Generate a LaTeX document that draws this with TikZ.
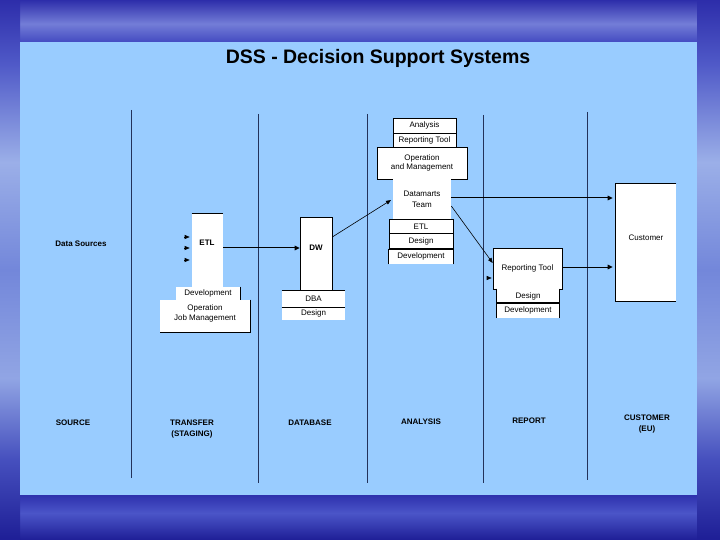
\documentclass[tikz,border=0pt]{standalone}
\usepackage{fontspec}
\setmainfont{Liberation Sans}
\usetikzlibrary{arrows.meta}
\definecolor{panel}{RGB}{153,204,255}
\definecolor{vline}{RGB}{35,50,90}
\definecolor{bga}{RGB}{30,30,150}
\definecolor{bgb}{RGB}{75,85,200}
\definecolor{bgc}{RGB}{40,42,168}
\definecolor{bgd}{RGB}{95,105,210}
\definecolor{bge}{RGB}{65,72,192}
\definecolor{bgf}{RGB}{115,125,215}
\definecolor{bgg}{RGB}{45,45,170}
\definecolor{sda}{RGB}{70,80,190}
\definecolor{sdb}{RGB}{145,165,228}
\definecolor{sdc}{RGB}{115,135,218}
\definecolor{sdd}{RGB}{155,175,232}
\definecolor{sde}{RGB}{80,90,200}
\pgfdeclareverticalshading{bgsh}{100bp}{
  color(0bp)=(bga);
  color(25bp)=(bga);
  color(27.5bp)=(bgb);
  color(29.5bp)=(bgc);
  color(50bp)=(bgd);
  color(71bp)=(bge);
  color(72.8bp)=(bgf);
  color(75bp)=(bgg);
  color(100bp)=(bgg)}
\pgfdeclareverticalshading{sidesh}{100bp}{
  color(0bp)=(bga);
  color(25bp)=(bga);
  color(32.5bp)=(sda);
  color(40bp)=(sdb);
  color(50bp)=(sdc);
  color(60bp)=(sdd);
  color(69bp)=(sde);
  color(75bp)=(bgg);
  color(100bp)=(bgg)}
\begin{document}
\begin{tikzpicture}[x=1bp,y=-1bp,
  box/.style={fill=white, draw=black, line width=0.6bp, inner sep=0pt, align=center,
    font=\fontsize{8bp}{9.5bp}\selectfont},
  wbox/.style={box, draw=none},
  txt/.style={inner sep=0pt, align=center, font=\fontsize{8bp}{9.5bp}\selectfont},
  lbl/.style={inner sep=0pt, align=center, font=\fontsize{8bp}{11bp}\selectfont\bfseries},
  edge/.style={line width=0.7bp, black},
  thick edge/.style={line width=1.8bp, black},
  arr/.style={-{Triangle[length=5bp,width=4.5bp]}, line width=1bp, black},
  tarr/.style={-{Triangle[length=5bp,width=4bp]}, line width=0.6bp, black},
  vl/.style={draw=vline, line width=0.9bp}]
\useasboundingbox (0,0) rectangle (720,540);
% background
\shade[shading=bgsh] (0,0) rectangle (720,540);
\shade[shading=sidesh] (0,0) rectangle (20,540);
\shade[shading=sidesh] (697,0) rectangle (720,540);
% panel
\fill[panel] (20,42) rectangle (697,495);
% title
\node[inner sep=0pt, font=\fontsize{19.5bp}{22bp}\selectfont\bfseries] (title) at (378,58) {DSS - Decision Support Systems};
% column separators
\draw[vl] (131,110) -- (131,478);
\draw[vl] (258,114) -- (258,483);
\draw[vl] (367,114) -- (367,483);
\draw[vl] (483,115) -- (483,483);
\draw[vl] (587,112) -- (587,480);
% source
\node[lbl] (ds) at (81,244) {Data Sources};
% transfer (staging)
\node[wbox, minimum width=90bp, minimum height=32bp] (etlop) at (205,316) {};
\node[txt] (etlopt) at (205,313.5) {Operation\\Job Management};
\node[wbox, minimum width=64bp, minimum height=13bp] (etldev) at (208,293.5) {Development};
\node[wbox, minimum width=31bp, minimum height=73bp] (etl) at (207.5,250.5) {};
\node[lbl] (etll) at (207,243) {ETL};
\draw[edge] (etl.north west) -- (etl.north east);
\draw[edge] (etldev.north east) -- (etldev.south east);
\draw[edge] (etlop.north east) -- (etlop.south east) -- (etlop.south west);
\coordinate (s1) at (184,237);
\coordinate (s2) at (184,248);
\coordinate (s3) at (184,260);
\draw[tarr, shorten >=2bp] (s1) -- (etl.west |- s1);
\draw[tarr, shorten >=2bp] (s2) -- (etl.west |- s2);
\draw[tarr, shorten >=2bp] (s3) -- (etl.west |- s3);
% database
\node[box, minimum width=32bp, minimum height=74bp] (dw) at (316,254) {};
\node[lbl] (dwl) at (316,248) {DW};
\node[wbox, minimum width=63bp, minimum height=16bp] (dba) at (313.5,299) {DBA};
\node[wbox, minimum width=63bp, minimum height=13bp] (dbades) at (313.5,313.5) {Design};
\draw[edge] (dba.north west) -- (dba.north east);
\draw[edge] (dba.south west) -- (dba.south east);
\draw[arr] ([yshift=2.5bp]etl.east) coordinate (a1) -- (dw.west |- a1);
% analysis
\node[box, minimum width=63bp, minimum height=15bp] (ana) at (424.5,125.5) {Analysis};
\node[box, minimum width=63bp, minimum height=14bp] (rt) at (424.5,140) {Reporting Tool};
\node[box, minimum width=90bp, minimum height=32bp] (opm) at (422,163) {Operation\\and Management};
\node[wbox, minimum width=58bp, minimum height=40bp] (dm) at (422,199) {Datamarts\\[1.5bp]Team};
\node[box, minimum width=64bp, minimum height=14.5bp] (dmetl) at (421,226.25) {ETL};
\node[box, minimum width=64bp, minimum height=15.5bp] (dmdes) at (421,241.25) {Design};
\node[wbox, minimum width=64bp, minimum height=15bp] (dmdev) at (421,256.5) {Development};
\draw[edge] (dmdev.south west) -- (dmdev.north west);
\draw[edge] (dmdev.south east) -- (dmdev.north east);
\draw[thick edge] (dmdev.north west) -- (dmdev.north east);
\draw[tarr, shorten >=2bp] ([yshift=17bp]dw.east) -- (dm.west);
% report
\node[box, minimum width=69bp, minimum height=41bp] (rep) at (527.5,268.5) {Reporting Tool};
\node[wbox, minimum width=62bp, minimum height=14bp] (repdes) at (528,296) {Design};
\node[wbox, minimum width=62bp, minimum height=15bp] (repdev) at (528,310.5) {Development};
\draw[edge] (repdes.north west) -- (repdes.south west);
\draw[edge] (repdes.north east) -- (repdes.south east);
\draw[edge] (repdev.north west) -- (repdev.south west);
\draw[edge] (repdev.north east) -- (repdev.south east);
\draw[thick edge] (repdev.north west) -- (repdev.north east);
\draw[tarr] ([yshift=-7bp]dm.east) -- ([yshift=5.5bp]rep.west);
\coordinate (s4) at (489,278);
\draw[tarr, shorten >=1bp] (s4) -- (rep.west |- s4);
% customer
\node[wbox, minimum width=60bp, minimum height=117bp] (cust) at (646,242.5) {};
\node[txt] (custl) at (646,238) {Customer};
\draw[edge] (cust.north east) -- (cust.north west) -- (cust.south west) -- (cust.south east);
\draw[arr, shorten >=3bp] ([yshift=1bp]dm.east) coordinate (a2) -- (cust.west |- a2);
\draw[arr, shorten >=3bp] ([yshift=1.5bp]rep.east) coordinate (a3) -- (cust.west |- a3);
% bottom labels
\node[lbl] (l1) at (73,423) {SOURCE};
\node[lbl] (l2) at (192,429.5) {TRANSFER\\(STAGING)};
\node[lbl] (l3) at (310,423) {DATABASE};
\node[lbl] (l4) at (421,422) {ANALYSIS};
\node[lbl] (l5) at (529,421) {REPORT};
\node[lbl] (l6) at (647,424) {CUSTOMER\\(EU)};
\end{tikzpicture}
\end{document}
